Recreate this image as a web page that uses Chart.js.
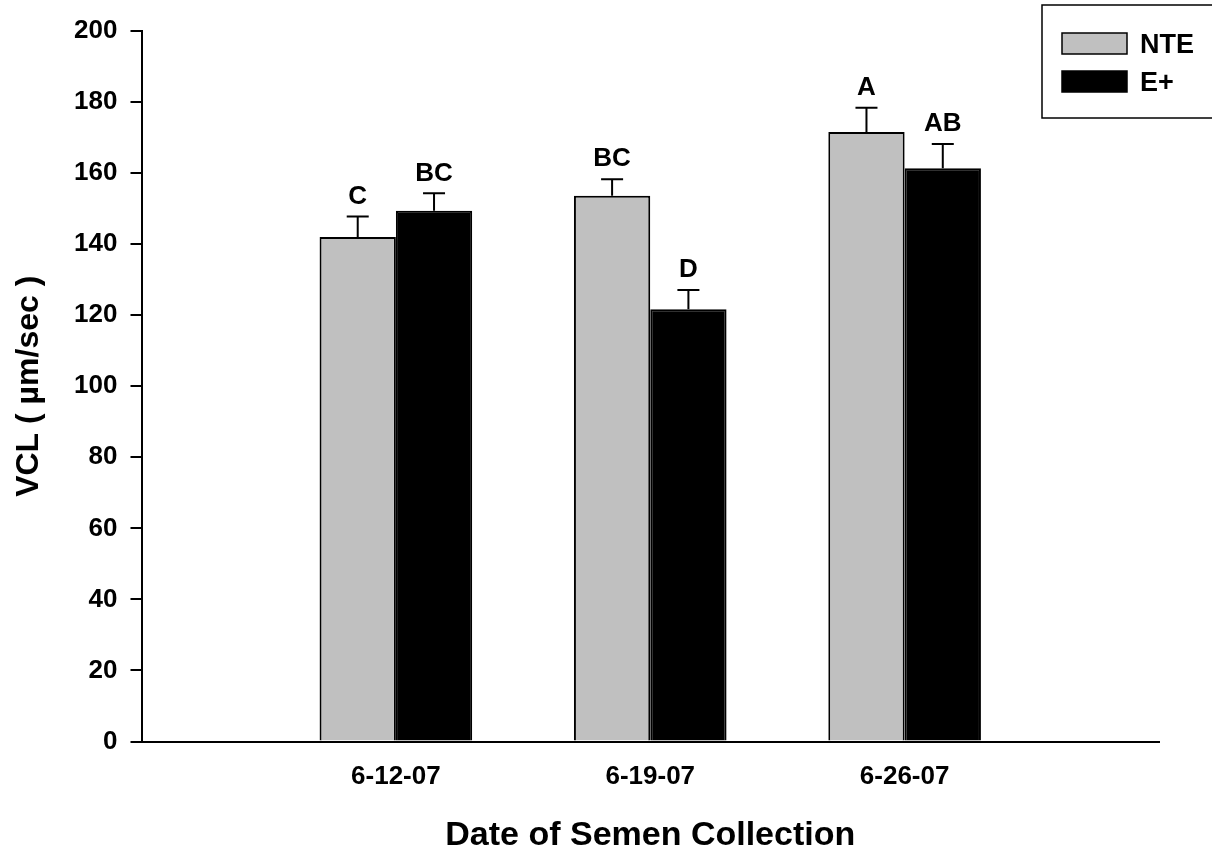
<!DOCTYPE html>
<html>
<head>
<meta charset="utf-8">
<script src="https://cdn.jsdelivr.net/npm/chart.js@4"></script>
<style>
  body { margin: 0; background: #fff; }
  canvas { display: block; }
</style>
</head>
<body>
<canvas id="grafico" width="1212" height="851"></canvas>
<script>
const dates = ['6-12-07', '6-19-07', '6-26-07'];
const nteMeans = [142, 153.6, 171.6];
const ntePlus = [5.8, 4.7, 6.8];
const nteLetters = ['C', 'BC', 'A'];
const ePlusMeans = [149.4, 121.7, 161.4];
const ePlusErr = [4.9, 5.4, 6.8];
const ePlusLetters = ['BC', 'D', 'AB'];
const yTicks = [0, 20, 40, 60, 80, 100, 120, 140, 160, 180, 200];

const FONT = '"Liberation Sans", Arial, sans-serif';

// empty slot on each side, like the original axis
const pad = arr => [null, ...arr, null];

const errorBars = {
  id: 'errorBars',
  afterDatasetsDraw(chart) {
    const ctx = chart.ctx;
    const y = chart.scales.y;
    ctx.save();
    ctx.strokeStyle = '#000';
    ctx.lineWidth = 2;
    ctx.fillStyle = '#000';
    ctx.font = 'bold 26px ' + FONT;
    ctx.textAlign = 'center';
    ctx.textBaseline = 'bottom';
    chart.data.datasets.forEach((ds, i) => {
      const meta = chart.getDatasetMeta(i);
      meta.data.forEach((bar, j) => {
        const v = ds.data[j];
        if (v == null) return;
        const top = y.getPixelForValue(v);
        const end = y.getPixelForValue(v + ds.err[j]);
        ctx.beginPath();
        ctx.moveTo(bar.x, top);
        ctx.lineTo(bar.x, end);
        ctx.moveTo(bar.x - 11, end);
        ctx.lineTo(bar.x + 11, end);
        ctx.stroke();
        ctx.fillText(ds.letters[j], bar.x, end - 7);
      });
    });
    ctx.restore();
  }
};

const boxLegend = {
  id: 'boxLegend',
  afterDraw(chart) {
    const ctx = chart.ctx;
    ctx.save();
    ctx.strokeStyle = '#000';
    ctx.lineWidth = 1.5;
    ctx.strokeRect(1042, 5, 180, 113);
    ctx.font = 'bold 27px ' + FONT;
    ctx.textBaseline = 'middle';
    chart.data.datasets.forEach((ds, i) => {
      const top = 33 + i * 38;
      ctx.fillStyle = ds.backgroundColor;
      ctx.fillRect(1062, top, 65, 21);
      ctx.strokeRect(1062, top, 65, 21);
      ctx.fillStyle = '#000';
      ctx.fillText(ds.label, 1140, top + 13);
    });
    ctx.restore();
  }
};

new Chart(document.getElementById('grafico'), {
  type: 'bar',
  data: {
    labels: ['', ...dates, ''],
    datasets: [
      {
        label: 'NTE',
        data: pad(nteMeans),
        err: pad(ntePlus),
        letters: pad(nteLetters),
        backgroundColor: '#c0c0c0',
        borderColor: '#000',
        borderWidth: 2
      },
      {
        label: 'E+',
        data: pad(ePlusMeans),
        err: pad(ePlusErr),
        letters: pad(ePlusLetters),
        backgroundColor: '#000000',
        borderColor: '#000',
        borderWidth: 2
      }
    ]
  },
  options: {
    responsive: false,
    animation: false,
    categoryPercentage: 0.6,
    barPercentage: 1,
    layout: { padding: { left: 0, top: 31, right: 53, bottom: 0 } },
    plugins: {
      legend: { display: false },
      tooltip: { enabled: false }
    },
    scales: {
      x: {
        offset: false,
        grid: { drawOnChartArea: false, drawTicks: false },
        border: { color: '#000', width: 2 },
        ticks: {
          color: '#000',
          padding: 20,
          font: { family: FONT, size: 26, weight: 'bold' }
        },
        title: {
          display: true,
          text: 'Date of Semen Collection',
          color: '#000',
          padding: { top: 0, bottom: 0 },
          font: { family: FONT, size: 34, weight: 'bold', lineHeight: 0.9 }
        },
        afterFit(scale) { scale.height = 109.5; }
      },
      y: {
        min: 0,
        max: 200,
        afterBuildTicks(scale) { scale.ticks = yTicks.map(v => ({ value: v })); },
        grid: { drawOnChartArea: false, drawTicks: true, tickLength: 11, color: '#000', lineWidth: 2 },
        border: { color: '#000', width: 2 },
        ticks: {
          color: '#000',
          padding: 13,
          font: { family: FONT, size: 26, weight: 'bold' }
        },
        title: {
          display: true,
          text: 'VCL ( µm/sec )',
          color: '#000',
          padding: { top: 10, bottom: 0 },
          font: { family: FONT, size: 32, weight: 'bold' }
        },
        afterFit(scale) { scale.width = 141.5; }
      }
    }
  },
  plugins: [errorBars, boxLegend]
});
</script>
</body>
</html>
